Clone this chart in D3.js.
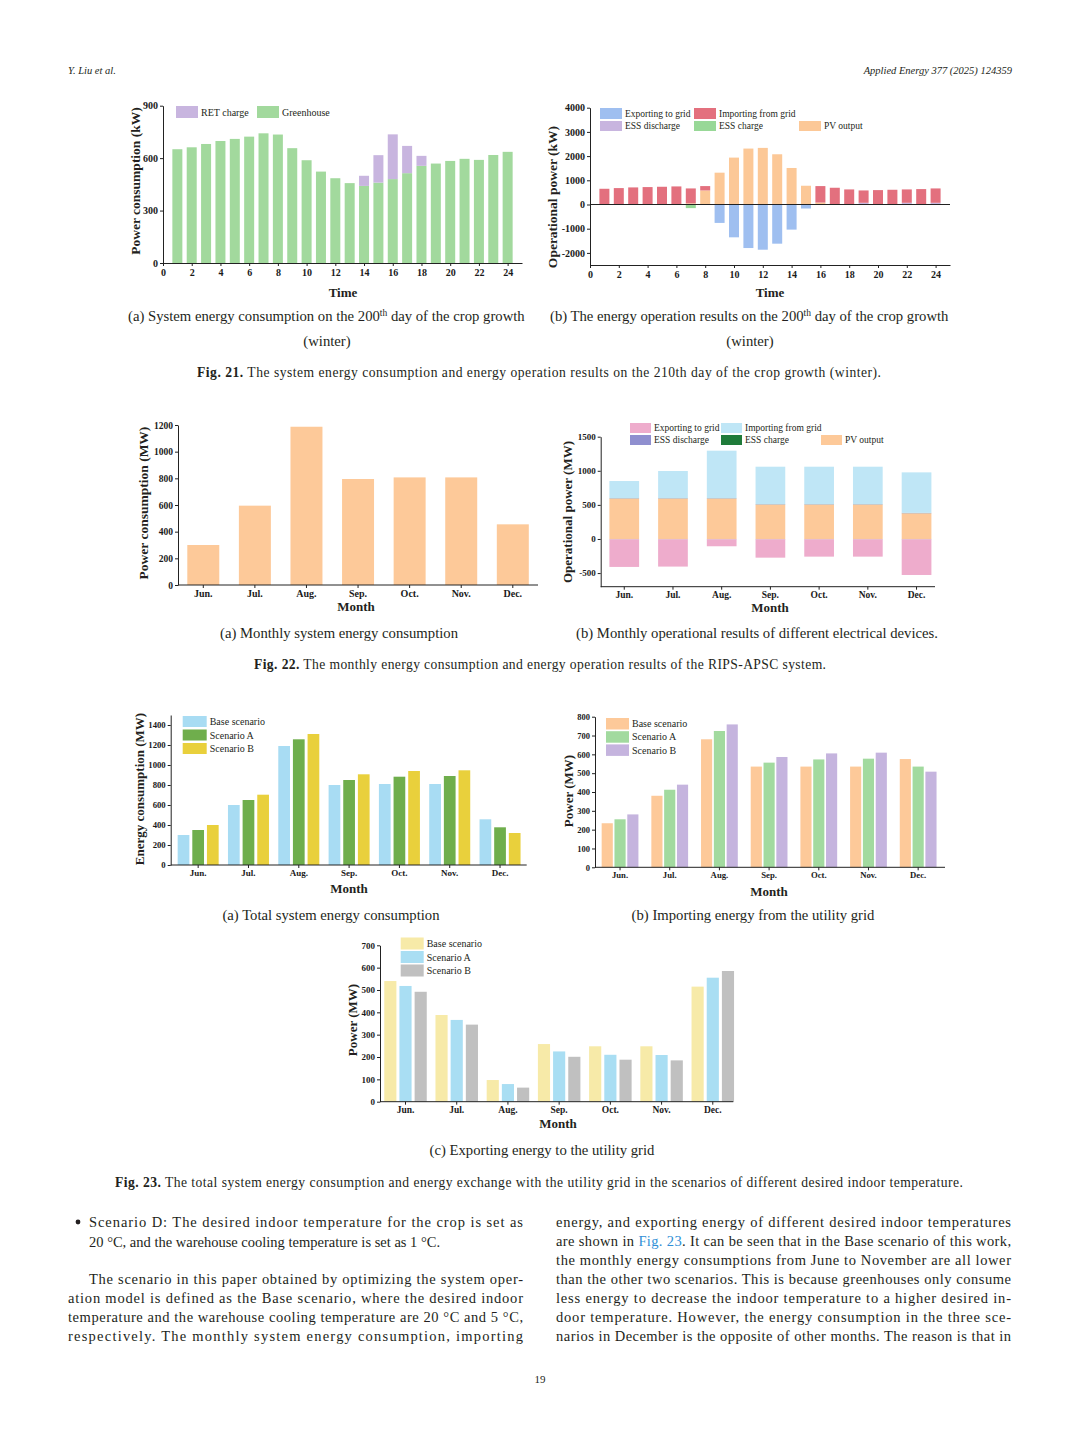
<!DOCTYPE html>
<html>
<head>
<meta charset="utf-8">
<script src="https://cdn.jsdelivr.net/npm/d3@7"></script>
<style>
  body { margin: 0; background: #fff; }
  svg { display: block; }
  .tick text { font-family: "Liberation Serif", serif; font-weight: bold; fill: #1a1a1a; }
  .tick line, .domain, .axisline { stroke: #222; stroke-width: 1; }
</style>
</head>
<body>
<script>
// ---- Fig. 21 data (hourly, 200th day) ----
const hours = [1, 2, 3, 4, 5, 6, 7, 8, 9, 10, 11, 12, 13, 14, 15, 16, 17, 18, 19, 20, 21, 22, 23, 24];
const greenhouse = [651, 662, 681, 698, 710, 723, 742, 735, 657, 588, 523, 485, 457, 441, 460, 480, 514, 556, 569, 584, 596, 590, 618, 636];
const retCharge  = [0, 0, 0, 0, 0, 0, 0, 0, 0, 0, 0, 0, 0, 58, 157, 256, 156, 57, 0, 0, 0, 0, 0, 0];

const pvHourly        = [0, 0, 0, 0, 0, 0, 50, 581, 1315, 1938, 2311, 2339, 2076, 1509, 775, 80, 0, 0, 0, 0, 0, 0, 0, 0];
const essDisHourly    = [0, 0, 0, 0, 0, 0, 0, 0, 0, 0, 0, 0, 0, 0, 0, 0, 0, 0, 70, 0, 0, 70, 0, 70];
const importHourly    = [650, 678, 706, 720, 733, 747, 614, 180, 0, 0, 0, 0, 0, 0, 0, 681, 692, 623, 511, 595, 609, 553, 637, 594];
const exportHourly    = [0, 0, 0, 0, 0, 0, 0, 0, -761, -1356, -1799, -1868, -1619, -1038, -166, 0, 0, 0, 0, 0, 0, 0, 0, 0];
const essChgHourly    = [0, 0, 0, 0, 0, 0, -150, 0, 0, 0, 0, 0, 0, 0, 0, 0, 0, 0, 0, 0, 0, 0, 0, 0];

// ---- Fig. 22 data (monthly) ----
const months = ["Jun.", "Jul.", "Aug.", "Sep.", "Oct.", "Nov.", "Dec."];
const monthlyConsumption = [300, 595, 1187, 795, 807, 807, 455];
const pvMonthly     = [590, 590, 590, 502, 502, 502, 375];
const essDisMonthly = [8, 8, 8, 8, 8, 8, 8];
const importMonthly = [252, 399, 697, 550, 550, 550, 594];
const essChgMonthly = [-6, -6, -6, -6, -6, -6, -6];
const exportMonthly = [-404, -399, -101, -268, -253, -253, -522];

// ---- Fig. 23 data (scenarios) ----
const scenarios = ["Base scenario", "Scenario A", "Scenario B"];
const consBase = [300, 600, 1190, 800, 810, 810, 457];
const consA    = [350, 650, 1257, 850, 883, 890, 377];
const consB    = [400, 703, 1310, 907, 940, 947, 320];
const impBase  = [234, 380, 680, 535, 535, 535, 575];
const impA     = [255, 412, 724, 556, 573, 577, 535];
const impB     = [281, 439, 759, 586, 605, 609, 508];
const expBase  = [540, 388, 97, 258, 248, 248, 515];
const expA     = [518, 366, 79, 225, 210, 209, 555];
const expB     = [492, 345, 63, 201, 188, 185, 585];

const serif = "'Liberation Serif', 'Times New Roman', serif";
const ink = "#231f20";
const plain = d => String(d);

const svg = d3.select("body").append("svg")
    .attr("width", 1080)
    .attr("height", 1441)
    .style("font-family", serif);

// helpers
function yAxis(g, y, x0, ticks, fs = 10) {
  g.append("g")
      .attr("transform", `translate(${x0},0)`)
      .call(d3.axisLeft(y).tickValues(ticks).tickFormat(plain).tickSize(3).tickSizeOuter(0).tickPadding(2))
      .call(a => a.selectAll(".tick text").attr("font-size", fs));
}

function xAxisLinear(g, x, y0, ticks, fs = 10) {
  g.append("g")
      .attr("transform", `translate(0,${y0})`)
      .call(d3.axisBottom(x).tickValues(ticks).tickFormat(plain).tickSize(3).tickSizeOuter(0).tickPadding(3))
      .call(a => a.selectAll(".tick text").attr("font-size", fs));
}

function xAxisBand(g, x, y0, x0, x1, fs = 10) {
  g.append("g")
      .attr("transform", `translate(0,${y0})`)
      .call(d3.axisBottom(x).tickSize(3).tickPadding(2))
      .call(a => a.select(".domain").remove())
      .call(a => a.selectAll(".tick text").attr("font-size", fs));
  g.append("line").attr("class", "axisline")
      .attr("x1", x0).attr("x2", x1).attr("y1", y0).attr("y2", y0);
}

function yTitle(g, text, x, y, fs = 13.5) {
  g.append("text")
      .attr("transform", `translate(${x},${y}) rotate(-90)`)
      .attr("text-anchor", "middle")
      .attr("dy", "0.35em")
      .attr("font-weight", "bold")
      .attr("font-size", fs)
      .attr("fill", ink)
      .text(text);
}

function xTitle(g, text, x, y) {
  g.append("text")
      .attr("x", x).attr("y", y)
      .attr("text-anchor", "middle")
      .attr("font-weight", "bold")
      .attr("font-size", 13)
      .attr("fill", ink)
      .text(text);
}

function legend(g, items) {
  const it = g.append("g").selectAll("g").data(items).join("g");
  it.append("rect")
      .attr("x", d => d.x).attr("y", d => d.y)
      .attr("width", d => d.w).attr("height", d => d.h)
      .attr("fill", d => d.color);
  it.append("text")
      .attr("x", d => d.x + d.w + 3)
      .attr("y", d => d.y + d.h / 2)
      .attr("dy", "0.35em")
      .attr("font-size", d => d.fs || 10)
      .attr("fill", ink)
      .text(d => d.label);
}

function caption(text, x, y, opts = {}) {
  const t = svg.append("text")
      .attr("x", x).attr("y", y)
      .attr("text-anchor", opts.anchor || "middle")
      .attr("font-size", opts.size || 14.7)
      .attr("fill", ink);
  return t.text(text);
}

function stackedBars(g, table, keys, colors, x, y, width) {
  const series = d3.stack().keys(keys).offset(d3.stackOffsetDiverging)(table);
  g.append("g").selectAll("g").data(series).join("g")
      .attr("fill", d => colors[d.key])
    .selectAll("rect").data(d => d).join("rect")
      .attr("x", d => x(d.data.key) - width / 2)
      .attr("y", d => y(Math.max(d[0], d[1])))
      .attr("width", width)
      .attr("height", d => Math.abs(y(d[0]) - y(d[1])));
}

function groupedBars(g, x, y, values, colors, innerPad) {
  const inner = d3.scaleBand().domain([0, 1, 2]).range([0, x.bandwidth()]).paddingInner(innerPad);
  months.forEach((m, i) => {
    g.append("g").selectAll("rect").data(values.map(v => v[i])).join("rect")
        .attr("x", (d, j) => x(m) + inner(j))
        .attr("y", d => y(d))
        .attr("width", inner.bandwidth())
        .attr("height", d => y(0) - y(d))
        .attr("fill", (d, j) => colors[j]);
  });
}

function figCaption(label, rest, x, y, w) {
  const f = caption("", x, y, {anchor: "start", size: 13.6}).attr("textLength", w).attr("lengthAdjust", "spacing");
  f.append("tspan").attr("font-weight", "bold").text(label);
  f.append("tspan").text("  " + rest);
}

const hourTicks = [0, 2, 4, 6, 8, 10, 12, 14, 16, 18, 20, 22, 24];

// ---- header ----
svg.append("text").attr("x", 68).attr("y", 74).attr("font-size", 10.5).attr("font-style", "italic")
    .attr("fill", ink).text("Y. Liu et al.");
svg.append("text").attr("x", 1012).attr("y", 74).attr("font-size", 10.5).attr("font-style", "italic")
    .attr("text-anchor", "end").attr("fill", ink).text("Applied Energy 377 (2025) 124359");

// ---- Fig. 21a ----
{
  const g = svg.append("g");
  const x = d3.scaleLinear().domain([0, 25]).range([163, 522]);
  const y = d3.scaleLinear().domain([0, 900]).range([263, 105.7]);
  const table = hours.map((h, i) => ({key: h, greenhouse: greenhouse[i], ret: retCharge[i]}));
  stackedBars(g, table, ["greenhouse", "ret"], {greenhouse: "#a2d99d", ret: "#c8b5df"}, x, y, 10);
  xAxisLinear(g, x, 263, hourTicks, 10);
  yAxis(g, y, 163, [0, 300, 600, 900], 10);
  yTitle(g, "Power consumption (kW)", 135, 181);
  xTitle(g, "Time", 343, 297);
  legend(g, [
    {label: "RET charge", color: "#c8b5df", x: 176, y: 106, w: 22, h: 12},
    {label: "Greenhouse", color: "#a2d99d", x: 257, y: 106, w: 22, h: 12}
  ]);
}

// ---- Fig. 21b ----
{
  const g = svg.append("g");
  const x = d3.scaleLinear().domain([0, 25]).range([590, 950]);
  const y = d3.scaleLinear().domain([-2500, 4000]).range([265, 107.7]);
  const table = hours.map((h, i) => ({key: h, pv: pvHourly[i], essDis: essDisHourly[i], imp: importHourly[i], exp: exportHourly[i], essChg: essChgHourly[i]}));
  const colors = {pv: "#fcc897", essDis: "#c8b5df", imp: "#e3707e", exp: "#9fbff0", essChg: "#98d897"};
  stackedBars(g, table, ["pv", "essDis", "imp", "exp", "essChg"], colors, x, y, 10);
  g.append("line").attr("class", "axisline").attr("x1", 590).attr("x2", 950).attr("y1", y(0)).attr("y2", y(0));
  xAxisLinear(g, x, 265, hourTicks, 10);
  yAxis(g, y, 590, [-2000, -1000, 0, 1000, 2000, 3000, 4000], 10);
  yTitle(g, "Operational power (kW)", 552, 197);
  xTitle(g, "Time", 770, 297);
  legend(g, [
    {label: "Exporting to grid", color: colors.exp, x: 600, y: 108, w: 22, h: 11, fs: 9.5},
    {label: "Importing from grid", color: colors.imp, x: 694, y: 108, w: 22, h: 11, fs: 9.5},
    {label: "ESS discharge", color: colors.essDis, x: 600, y: 121, w: 22, h: 10, fs: 9.5},
    {label: "ESS charge", color: colors.essChg, x: 694, y: 121, w: 22, h: 10, fs: 9.5},
    {label: "PV output", color: colors.pv, x: 799, y: 121, w: 22, h: 10, fs: 9.5}
  ]);
}

// ---- Fig. 21 captions ----
{
  const a = caption("(a) System energy consumption on the 200", 128, 321, {anchor: "start"});
  a.append("tspan").attr("font-size", 9.5).attr("dy", -5).text("th");
  a.append("tspan").attr("dy", 5).text(" day of the crop growth");
  caption("(winter)", 327, 346);
  const b = caption("(b) The energy operation results on the 200", 550, 321, {anchor: "start"});
  b.append("tspan").attr("font-size", 9.5).attr("dy", -5).text("th");
  b.append("tspan").attr("dy", 5).text(" day of the crop growth");
  caption("(winter)", 750, 346);
  figCaption("Fig. 21.", "The system energy consumption and energy operation results on the 210th day of the crop growth (winter).", 197, 377, 684);
}

// ---- Fig. 22a ----
{
  const g = svg.append("g");
  const x = d3.scaleBand().domain(months).range([177.5, 538.6]).paddingInner(0.38).paddingOuter(0.19);
  const y = d3.scaleLinear().domain([0, 1200]).range([585, 425]);
  g.append("g").selectAll("rect").data(months).join("rect")
      .attr("x", m => x(m))
      .attr("y", (m, i) => y(monthlyConsumption[i]))
      .attr("width", x.bandwidth())
      .attr("height", (m, i) => y(0) - y(monthlyConsumption[i]))
      .attr("fill", "#fdc999");
  xAxisBand(g, x, 585, 178, 538, 10);
  yAxis(g, y, 178, [0, 200, 400, 600, 800, 1000, 1200], 9.5);
  yTitle(g, "Power consumption (MW)", 143, 503);
  xTitle(g, "Month", 356, 611);
}

// ---- Fig. 22b ----
{
  const g = svg.append("g");
  const x = d3.scaleBand().domain(months).range([599.9, 940.9]).paddingInner(0.39).paddingOuter(0.195);
  const y = d3.scaleLinear().domain([-700, 1500]).range([586.7, 436.7]);
  const table = months.map((m, i) => ({key: m, pv: pvMonthly[i], essDis: essDisMonthly[i], imp: importMonthly[i], essChg: essChgMonthly[i], exp: exportMonthly[i]}));
  const colors = {pv: "#fdc999", essDis: "#a89a9a", imp: "#bfe6f6", essChg: "#a59a9a", exp: "#eeaccc"};
  const xc = m => x(m) + x.bandwidth() / 2;
  stackedBars(g, table, ["pv", "essDis", "imp", "essChg", "exp"], colors, xc, y, x.bandwidth());
  xAxisBand(g, x, 586.7, 600.7, 935, 9.5);
  yAxis(g, y, 600.7, [-500, 0, 500, 1000, 1500], 9);
  yTitle(g, "Operational power (MW)", 567, 512, 13);
  xTitle(g, "Month", 770, 612);
  legend(g, [
    {label: "Exporting to grid", color: "#eeaccc", x: 630, y: 423, w: 21, h: 10, fs: 9.5},
    {label: "Importing from grid", color: "#bfe6f6", x: 721, y: 423, w: 21, h: 10, fs: 9.5},
    {label: "ESS discharge", color: "#8f8fcf", x: 630, y: 435, w: 21, h: 10, fs: 9.5},
    {label: "ESS charge", color: "#1f7b3a", x: 721, y: 435, w: 21, h: 10, fs: 9.5},
    {label: "PV output", color: "#fdc999", x: 821, y: 435, w: 21, h: 10, fs: 9.5}
  ]);
}

// ---- Fig. 22 captions ----
caption("(a) Monthly system energy consumption", 339, 638);
caption("(b) Monthly operational results of different electrical devices.", 757, 638);
figCaption("Fig. 22.", "The monthly energy consumption and energy operation results of the RIPS-APSC system.", 254, 669, 572);

// ---- Fig. 23a ----
{
  const g = svg.append("g");
  const x = d3.scaleBand().domain(months).range([173, 525.2]).paddingInner(0.185).paddingOuter(0.0925);
  const y = d3.scaleLinear().domain([0, 1500]).range([865, 715]);
  const colors = ["#a8dcf3", "#6fae4c", "#e9d03c"];
  groupedBars(g, x, y, [consBase, consA, consB], colors, 0.2);
  xAxisBand(g, x, 865, 170.7, 526.7, 9);
  yAxis(g, y, 170.7, [0, 200, 400, 600, 800, 1000, 1200, 1400], 8.7);
  yTitle(g, "Energy consumption (MW)", 139, 789, 13);
  xTitle(g, "Month", 349, 893);
  legend(g, scenarios.map((s, i) => ({label: s, color: colors[i], x: 182.7, y: 716 + i * 13.5, w: 24, h: 11})));
}

// ---- Fig. 23b ----
{
  const g = svg.append("g");
  const x = d3.scaleBand().domain(months).range([595.2, 943]).paddingInner(0.26).paddingOuter(0.13);
  const y = d3.scaleLinear().domain([0, 800]).range([867.3, 716.7]);
  const colors = ["#fdc999", "#a2da9f", "#c5b4de"];
  groupedBars(g, x, y, [impBase, impA, impB], colors, 0.13);
  xAxisBand(g, x, 867.3, 595, 945, 8.7);
  yAxis(g, y, 595, [0, 100, 200, 300, 400, 500, 600, 700, 800], 8.5);
  yTitle(g, "Power (MW)", 568, 791, 13);
  xTitle(g, "Month", 769, 896);
  legend(g, scenarios.map((s, i) => ({label: s, color: colors[i], x: 606, y: 718 + i * 13.2, w: 23, h: 11.5})));
}

// ---- Fig. 23c ----
{
  const g = svg.append("g");
  const x = d3.scaleBand().domain(months).range([379.9, 738.4]).paddingInner(0.17).paddingOuter(0.085);
  const y = d3.scaleLinear().domain([0, 700]).range([1101.7, 945.3]);
  const colors = ["#f7eaa8", "#a9def3", "#c0c0c0"];
  groupedBars(g, x, y, [expBase, expA, expB], colors, 0.2);
  xAxisBand(g, x, 1101.7, 380, 733.3, 9.5);
  yAxis(g, y, 380, [0, 100, 200, 300, 400, 500, 600, 700], 9);
  yTitle(g, "Power (MW)", 352, 1020, 13);
  xTitle(g, "Month", 558, 1128);
  legend(g, scenarios.map((s, i) => ({label: s, color: colors[i], x: 400.7, y: 937.5 + i * 13.5, w: 23, h: 12})));
}

// ---- Fig. 23 captions ----
caption("(a) Total system energy consumption", 331, 920);
caption("(b) Importing energy from the utility grid", 753, 920);
caption("(c) Exporting energy to the utility grid", 542, 1155);
figCaption("Fig. 23.", "The total system energy consumption and energy exchange with the utility grid in the scenarios of different desired indoor temperature.", 115, 1187, 848);

// ---- body text ----
const leftLines = [
  {t: "Scenario D: The desired indoor temperature for the crop is set as", x: 89, y: 1227, w: 434},
  {t: "20 °C, and the warehouse cooling temperature is set as 1 °C.", x: 89, y: 1247},
  {t: "The scenario in this paper obtained by optimizing the system oper-", x: 89, y: 1284, w: 434},
  {t: "ation model is defined as the Base scenario, where the desired indoor", x: 68, y: 1303, w: 455},
  {t: "temperature and the warehouse cooling temperature are 20 °C and 5 °C,", x: 68, y: 1322, w: 455},
  {t: "respectively. The monthly system energy consumption, importing", x: 68, y: 1341, w: 455}
];
const rightLines = [
  {t: "energy, and exporting energy of different desired indoor temperatures", y: 1227},
  {t: "are shown in |Fig. 23|. It can be seen that in the Base scenario of this work,", y: 1246},
  {t: "the monthly energy consumptions from June to November are all lower", y: 1265},
  {t: "than the other two scenarios. This is because greenhouses only consume", y: 1284},
  {t: "less energy to decrease the indoor temperature to a higher desired in-", y: 1303},
  {t: "door temperature. However, the energy consumption in the three sce-", y: 1322},
  {t: "narios in December is the opposite of other months. The reason is that in", y: 1341}
];
svg.append("circle").attr("cx", 78).attr("cy", 1222).attr("r", 2.4).attr("fill", ink);
leftLines.concat(rightLines.map(d => ({...d, x: 556, w: 455}))).forEach(d => {
  const t = svg.append("text").attr("x", d.x).attr("y", d.y).attr("font-size", 14.5).attr("fill", ink);
  if (d.w) t.attr("textLength", d.w).attr("lengthAdjust", "spacing");
  d.t.split("|").forEach((part, i) => {
    t.append("tspan").attr("fill", i === 1 ? "#2f8fd6" : ink).text(part);
  });
});

svg.append("text").attr("x", 540).attr("y", 1383).attr("text-anchor", "middle")
    .attr("font-size", 11).attr("fill", ink).text("19");
</script>
</body>
</html>
